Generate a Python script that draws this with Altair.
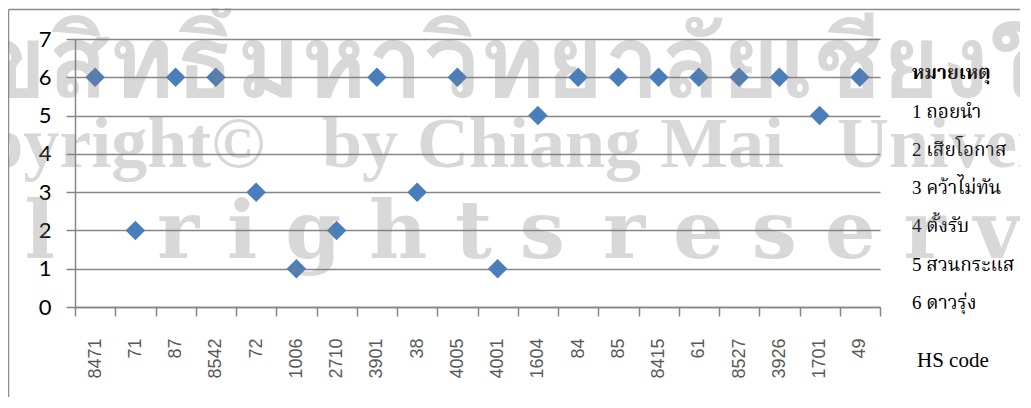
import altair as alt
import pandas as pd

# ---- data ----
codes = ["8471", "71", "87", "8542", "72", "1006", "2710", "3901", "38", "4005",
         "4001", "1604", "84", "85", "8415", "61", "8527", "3926", "1701", "49"]
levels = [6, 2, 6, 6, 3, 1, 2, 6, 3, 6, 1, 5, 6, 6, 6, 6, 6, 6, 5, 6]

note_title = ["หมายเหตุ"]
note_title_level = [6]
note_labels = ["1 ถอยนำ", "2 เสียโอกาส", "3 คว้าไม่ทัน", "4 ตั้งรับ", "5 สวนกระแส", "6 ดาวรุ่ง"]
note_levels = [5, 4, 3, 2, 1, 0]
x_title = "HS code"

wm_thai = "ลิขสิทธิ์มหาวิทยาลัยเชียงใหม่"
wm_copy = "Copyright©"
wm_by = "by"
wm_chiang = "Chiang"
wm_mai = "Mai"
wm_univ = "University"
wm_all = "A l l"
wm_rights = "r i g h t s"
wm_reserved = "r e s e r v e d"

df = pd.DataFrame({"code": codes, "level": levels})
notes = pd.DataFrame({"label": note_labels, "level": note_levels})
title_df = pd.DataFrame({"label": note_title, "level": note_title_level})
one = pd.DataFrame({"k": [0]})

GRID = "#868686"
THAI_SERIF = "Liberation Serif, Norasi, Kinnari, Noto Serif Thai, Garuda, Loma, Noto Sans Thai, serif"
THAI_BOLD = "Norasi, Kinnari, Garuda, Loma, Noto Sans Thai, Noto Sans, sans-serif"
yscale = alt.Scale(domain=[0, 7])

points = alt.Chart(df).mark_point(
    shape="diamond", filled=True, size=380, color="#4a7ebb", opacity=1
).encode(
    x=alt.X("code:N", sort=codes, title=None,
            scale=alt.Scale(type="band", paddingInner=0, paddingOuter=0)),
    y=alt.Y("level:Q", scale=yscale, title=None),
)

title_text = alt.Chart(title_df).mark_text(
    align="left", baseline="alphabetic", dy=2, font=THAI_SERIF,
    fontSize=19, fontWeight="bold", color="#000000"
).encode(x=alt.value(837), y=alt.Y("level:Q", scale=yscale, title=None), text="label:N")

notes_text = alt.Chart(notes).mark_text(
    align="left", baseline="alphabetic", dy=2, font=THAI_SERIF,
    fontSize=19, color="#000000"
).encode(x=alt.value(837), y=alt.Y("level:Q", scale=yscale, title=None), text="label:N")

hs_text = alt.Chart(one).mark_text(
    align="left", baseline="alphabetic", font="Liberation Serif", fontSize=21, color="#000000"
).encode(x=alt.value(842), y=alt.value(328), text=alt.value(x_title))

frame_left = alt.Chart(one).mark_rule(color="#8c8c8c", strokeWidth=1.5).encode(
    x=alt.value(-66.5), y=alt.value(-29.5), y2=alt.value(370))
frame_top = alt.Chart(one).mark_rule(color="#8c8c8c", strokeWidth=1.5).encode(
    x=alt.value(-66.5), x2=alt.value(960), y=alt.value(-29.5))

WM = dict(color="#808080", opacity=0.3)


def wm(text, x, y, align, font, size, weight="bold"):
    return alt.Chart(one).mark_text(
        align=align, baseline="alphabetic", font=font, fontSize=size, fontWeight=weight, **WM
    ).encode(x=alt.value(x), y=alt.value(y), text=alt.value(text))


SERIF = "Liberation Serif"
wm_layers = [
    wm(wm_thai, -157, 58, "left", THAI_BOLD, 100),
    wm(wm_copy, 190, 128, "right", SERIF, 72),
    wm(wm_by, 247, 128, "left", SERIF, 72),
    wm(wm_chiang, 342, 128, "left", SERIF, 72),
    wm(wm_mai, 585, 128, "left", SERIF, 72),
    wm(wm_univ, 762, 128, "left", SERIF, 72),
    wm(wm_all, -20, 219, "right", "DejaVu Serif", 80),
    wm(wm_rights, 82, 219, "left", "DejaVu Serif", 80),
    wm(wm_reserved, 528, 219, "left", "DejaVu Serif", 80),
]

chart = alt.layer(
    frame_left, frame_top, points, title_text, notes_text, hs_text, *wm_layers
).properties(
    width=805, height=268,
    padding={"left": 67, "top": 31, "right": 140, "bottom": 90},
    autosize=alt.AutoSizeParams(type="none"),
).configure_view(
    stroke=None
).configure_axisX(
    labelAngle=-90, tickBand="extent", grid=False, domainColor=GRID, tickColor=GRID,
    tickSize=9, labelPadding=22, labelFont="Liberation Sans", labelFontSize=18,
    labelColor="#595959", domainWidth=1.5, tickWidth=1.5
).configure_axisY(
    tickCount=8, grid=True, gridColor=GRID, gridWidth=1.5, domainColor=GRID, tickColor=GRID,
    tickSize=9, labelPadding=15, labelFont="Lato", labelFontSize=22, labelColor="#000000",
    domainWidth=1.5, tickWidth=1.5
)

chart.save("out.html", embed_options={"renderer": "svg", "actions": False})
